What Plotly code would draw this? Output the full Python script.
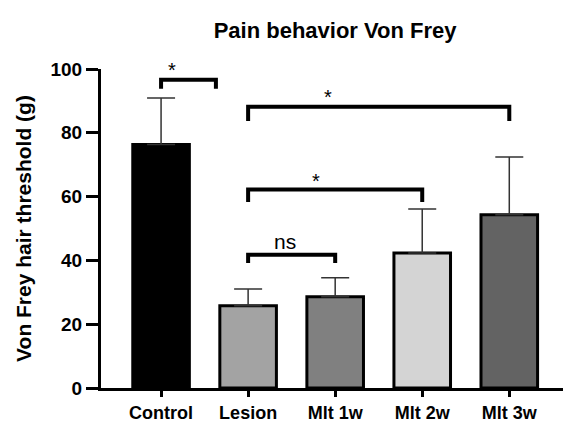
import plotly.graph_objects as go

# data
groups = ["Control", "Lesion", "Mlt 1w", "Mlt 2w", "Mlt 3w"]
means = [76.3, 25.8, 28.6, 42.3, 54.3]
sem = [14.6, 5.2, 6.0, 13.8, 18.1]
bar_colours = ["#000000", "#a3a3a3", "#808080", "#d4d4d4", "#636363"]

# significance brackets: left idx, right idx, top y, foot y, label, label x, label y
br_left = [0, 1, 1, 1]
br_right = [0.63, 4, 3, 2]
br_top = [96.6, 88.2, 62.2, 41.8]
br_foot = [93.8, 83.7, 58.3, 39.2]
br_label = ["*", "*", "*", "ns"]
br_label_x = [0.126, 1.92, 1.78, 1.42]
br_label_y = [99.7, 91.1, 64.9, 45.9]

FONT = "Liberation Sans, Arial, sans-serif"

fig = go.Figure(
    data=go.Bar(
        x=groups,
        y=means,
        width=0.65,
        marker={"color": bar_colours, "line": {"color": "#000000", "width": 3}},
        error_y={
            "type": "data",
            "symmetric": False,
            "array": sem,
            "arrayminus": [0] * len(sem),
            "color": "#333333",
            "thickness": 1.5,
            "width": 14,
        },
    )
)

for x0, x1, yt, yf, lab, lx, ly in zip(
    br_left, br_right, br_top, br_foot, br_label, br_label_x, br_label_y
):
    fig.add_shape(
        type="path",
        xref="x",
        yref="y",
        path=f"M {x0} {yf} L {x0} {yt} L {x1} {yt} L {x1} {yf}",
        line={"color": "#000000", "width": 4},
    )
    fig.add_annotation(
        x=lx,
        y=ly,
        xref="x",
        yref="y",
        text=lab,
        showarrow=False,
        yanchor="middle",
        font={"family": FONT, "size": 20 if lab == "*" else 21, "color": "#000000"},
    )

# page body adds an 8px margin, so the figure is sized to the remaining view
fig.update_layout(
    width=563,
    height=416,
    margin={"l": 93, "r": 6, "t": 61, "b": 36},
    plot_bgcolor="white",
    paper_bgcolor="white",
    showlegend=False,
    title={
        "text": "Pain behavior Von Frey",
        "x": 0.581,
        "xanchor": "center",
        "y": 0.947,
        "yanchor": "middle",
        "font": {"family": FONT, "size": 22, "color": "#000000", "weight": "bold"},
    },
    xaxis={
        "range": [-0.69, 4.64],
        "automargin": False,
        "showline": True,
        "linecolor": "#000000",
        "linewidth": 3,
        "ticks": "outside",
        "ticklen": 6,
        "tickwidth": 3,
        "tickcolor": "#000000",
        "showgrid": False,
        "tickfont": {"family": FONT, "size": 18, "color": "#000000", "weight": "bold"},
    },
    yaxis={
        "range": [0, 100],
        "dtick": 20,
        "automargin": False,
        "showline": True,
        "linecolor": "#000000",
        "linewidth": 3,
        "ticks": "outside",
        "ticklen": 12,
        "tickwidth": 3,
        "tickcolor": "#000000",
        "showgrid": False,
        "zeroline": False,
        "tickfont": {"family": FONT, "size": 19, "color": "#000000", "weight": "bold"},
        "title": {
            "text": "Von Frey hair threshold (g)",
            "standoff": 14,
            "font": {"family": FONT, "size": 21, "color": "#000000", "weight": "bold"},
        },
    },
)

fig.write_html("out.html")
